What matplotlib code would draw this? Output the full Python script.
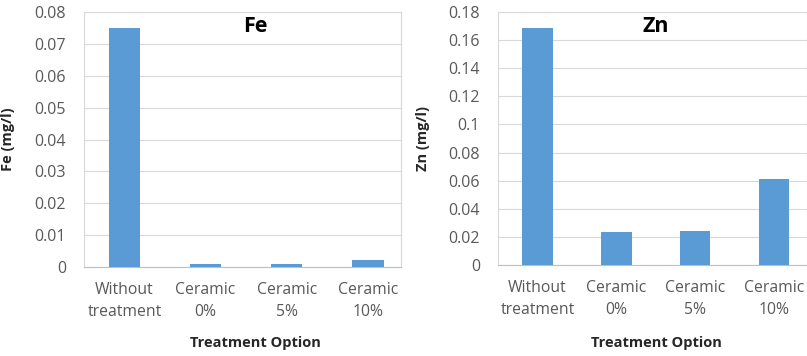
import matplotlib.pyplot as plt

# data
categories = ["Without\ntreatment", "Ceramic\n0%", "Ceramic\n5%", "Ceramic\n10%"]
fe_values = [0.0749, 0.0009, 0.0009, 0.0021]
zn_values = [0.1685, 0.0238, 0.0244, 0.0610]
fe_ticks = [0, 0.01, 0.02, 0.03, 0.04, 0.05, 0.06, 0.07, 0.08]
fe_tick_labels = ["0", "0.01", "0.02", "0.03", "0.04", "0.05", "0.06", "0.07", "0.08"]
zn_ticks = [0, 0.02, 0.04, 0.06, 0.08, 0.1, 0.12, 0.14, 0.16, 0.18]
zn_tick_labels = ["0", "0.02", "0.04", "0.06", "0.08", "0.1", "0.12", "0.14", "0.16", "0.18"]

bar_color = "#5B9BD5"
text_color = "#595959"
grid_color = "#D9D9D9"
plt.rcParams["font.family"] = ["Open Sans", "DejaVu Sans"]

W, H = 807, 356
fig = plt.figure(figsize=(W / 100, H / 100), dpi=100)


# axes rectangle from pixel edges
def box(x0, x1, top, bottom):
    return [x0 / W, (H - bottom) / H, (x1 - x0) / W, (bottom - top) / H]


def make_panel(x0, x1, top, bottom, values, ticks, tick_labels, ymax, title, ylabel,
               title_px, ylabel_px):
    ax = fig.add_axes(box(x0, x1, top, bottom))
    x = range(len(categories))
    ax.bar(x, values, width=0.39, color=bar_color, zorder=3)
    ax.set_ylim(0, ymax)
    ax.set_yticks(ticks)
    ax.set_yticklabels(tick_labels, fontsize=11.5, color=text_color)
    ax.set_xticks(list(x))
    ax.set_xticklabels(categories, fontsize=11.3, color=text_color, linespacing=1.5)
    ax.tick_params(length=0)
    ax.tick_params(axis="y", pad=13)
    ax.tick_params(axis="x", pad=11)
    ax.grid(axis="y", color=grid_color, linewidth=0.8, zorder=0)
    for s in ax.spines.values():
        s.set_color(grid_color)
        s.set_linewidth(0.8)
    ax.spines["bottom"].set_color("#BFBFBF")
    w = x1 - x0
    h = bottom - top
    ax.set_ylabel(ylabel, fontsize=10.5, fontweight="bold", color="#262626")
    ax.yaxis.set_label_coords((ylabel_px - x0) / w, 0.5)
    ax.set_xlabel("Treatment Option", fontsize=10.5, fontweight="bold", color="#262626")
    ax.xaxis.set_label_coords((title_px - x0) / w, -(336 - bottom) / h)
    ax.text((title_px - x0) / w, 1 - (27 - top) / h, title, transform=ax.transAxes,
            ha="center", va="center", fontsize=15.5, fontweight="bold", color="black")
    return ax


ax1 = make_panel(84, 401, 12, 267, fe_values, fe_ticks, fe_tick_labels, 0.08,
                 "Fe", "Fe (mg/l)", 255, 15)
ax1.set_xlim(-0.5, 3.41)
ax2 = make_panel(498, 807, 12, 265, zn_values, zn_ticks, zn_tick_labels, 0.18,
                 "Zn", "Zn (mg/l)", 656, 430)
ax2.set_xlim(-0.5, 3.42)

fig.savefig("out.png", dpi=100, facecolor="white")
